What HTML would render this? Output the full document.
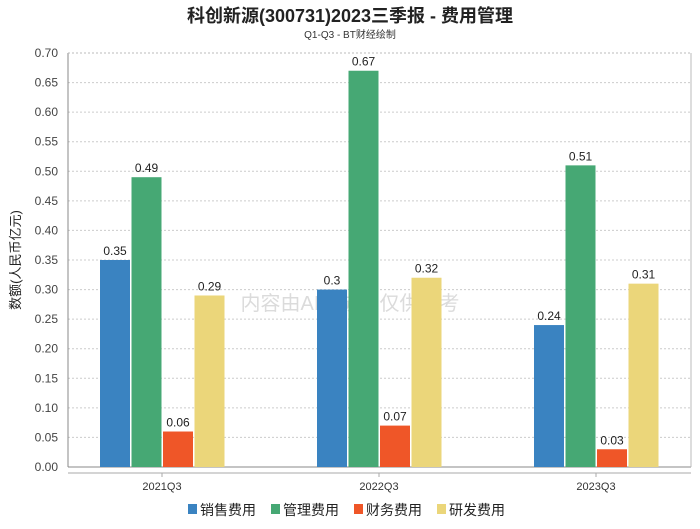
<!DOCTYPE html>
<html><head><meta charset="utf-8"><style>
body{margin:0;background:#fff;font-family:"Liberation Sans","Noto Sans CJK SC",sans-serif;}
svg text{font-family:"Liberation Sans","Noto Sans CJK SC",sans-serif;}
</style></head><body>
<svg id="c" width="700" height="524">
<text x="350" y="22" text-anchor="middle" font-size="18" font-weight="bold" fill="#222">科创新源(300731)2023三季报 - 费用管理</text>
<text x="350" y="38" text-anchor="middle" font-size="10" fill="#333">Q1-Q3 - BT财经绘制</text>
<text transform="translate(20,260) rotate(-90)" text-anchor="middle" font-size="13" fill="#222">数额(人民币亿元)</text>
<text x="350" y="310" text-anchor="middle" font-size="20" fill="#ccc" opacity="0.7">内容由AI生成，仅供参考</text>
<g id="g"></g>
</svg>
<script>
const categories=["2021Q3","2022Q3","2023Q3"];
const seriesNames=["销售费用","管理费用","财务费用","研发费用"];
const sales=[0.35,0.3,0.24];
const admin=[0.49,0.67,0.51];
const finance=[0.06,0.07,0.03];
const rnd=[0.29,0.32,0.31];
const yTicks=[0,0.05,0.1,0.15,0.2,0.25,0.3,0.35,0.4,0.45,0.5,0.55,0.6,0.65,0.7];
const colors=["#3a83c1","#46a874","#ef5628","#ebd67a"];
const series=[sales,admin,finance,rnd];
const NS="http://www.w3.org/2000/svg";
const g=document.getElementById('g');
const L=68,R=691,T=53,B=467;
const y=v=>B-(v/0.7)*(B-T);
const xc=i=>162+217*i;
function mk(t,a){const e=document.createElementNS(NS,t);for(const k in a)e.setAttribute(k,a[k]);g.appendChild(e);return e;}
yTicks.forEach(v=>{
 const l=mk('line',{x1:L,x2:R,y1:y(v),y2:y(v),stroke:v===0?'#888':'#ccc','stroke-dasharray':v===0?'':'2,2'});
 
 
 const t=mk('text',{x:L-10,y:y(v)+4,'text-anchor':'end','font-size':12,fill:'#444'});
 t.textContent=v.toFixed(2);
 
 
});
mk('line',{x1:L,x2:L,y1:T,y2:B,stroke:'#888'});
mk('line',{x1:R,x2:R,y1:T,y2:B,stroke:'#bbb'});
mk('line',{x1:L,x2:R,y1:T,y2:T,stroke:'#bbb','stroke-dasharray':'2,2'});
mk('line',{x1:L,x2:R,y1:473,y2:473,stroke:'#aaa'});
categories.forEach((c,i)=>{
 const t=mk('text',{x:xc(i),y:490,'text-anchor':'middle','font-size':11,fill:'#333'});
 t.textContent=c;
 
 
 mk('line',{x1:xc(i),x2:xc(i),y1:473,y2:477,stroke:'#aaa'});
 series.forEach((s,j)=>{
  const x0=xc(i)-62+j*31.5;
  const r=mk('rect',{x:x0,y:y(s[i]),width:30,height:B-y(s[i]),fill:colors[j]});
  
  
  const t=mk('text',{x:x0+15,y:y(s[i])-5,'text-anchor':'middle','font-size':12,fill:'#222'});
  t.textContent=String(s[i]);
  
  
 });
});
let lx=188;
seriesNames.forEach((n,j)=>{
 const r=mk('rect',{x:lx,y:504,width:9,height:10,fill:colors[j]});
 
 
 const t=mk('text',{x:lx+12,y:515,'font-size':14,fill:'#222'});
 t.textContent=n;
 
 
 lx+=83;
});
</script>
</body></html>
